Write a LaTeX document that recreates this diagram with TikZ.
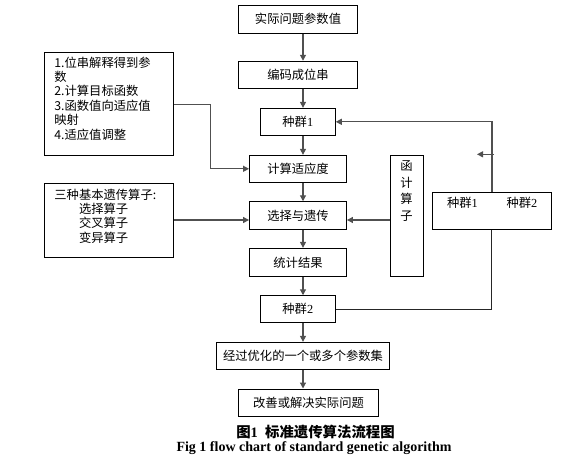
\documentclass[tikz,border=0pt]{standalone}
\usepackage{fontspec}
\setmainfont{Liberation Serif}
\newfontfamily\cjk{Noto Sans CJK SC}
\usepackage{xcolor}
\definecolor{lineGray}{HTML}{505050}
\usetikzlibrary{arrows.meta,positioning}

\begin{document}
\begin{tikzpicture}[x=1pt,y=-1pt,font=\fontsize{12.3}{14.4}\selectfont\cjk,>={Triangle[length=6pt,width=6pt]},
  box/.style={draw,line width=0.9pt,fill=white,inner sep=0pt},
  arr/.style={->,draw=lineGray,line width=1.2pt},
  link/.style={draw=black!85,line width=1pt}]
  \useasboundingbox (0,0) rectangle (578,463);
  % main column
  \node[box,minimum width=119pt,minimum height=28pt] (q) at (298,19.3) {实际问题参数值};
  \node[box,minimum width=119pt,minimum height=27pt] (enc) at (298,74.7) {编码成位串};
  \node[box,minimum width=75pt,minimum height=27pt] (popA) at (297.8,121.8) {种群{\rmfamily 1}};
  \node[box,minimum width=97pt,minimum height=27pt] (fit) at (298,168.8) {计算适应度};
  \node[box,minimum width=97pt,minimum height=27.6pt] (sel) at (298,215.5) {选择与遗传};
  \node[box,minimum width=97pt,minimum height=28pt] (stat) at (298,262.3) {统计结果};
  \node[box,minimum width=75pt,minimum height=26.6pt] (popB) at (297.8,309) {种群{\rmfamily 2}};
  \node[box,minimum width=173pt,minimum height=27pt] (opt) at (303,355.8) {经过优化的一个或多个参数集};
  \node[box,minimum width=140pt,minimum height=27.7pt] (solve) at (308.5,402.8) {改善或解决实际问题};
  \coordinate (col) at (303,0);
  \draw[arr] (q.south -| col) -- (enc.north -| col);
  \draw[arr] (enc.south -| col) -- (popA.north -| col);
  \draw[arr] (popA.south -| col) -- (fit.north -| col);
  \draw[arr] (fit.south -| col) -- (sel.north -| col);
  \draw[arr] (sel.south -| col) -- (stat.north -| col);
  \draw[arr] (stat.south -| col) -- (popB.north -| col);
  \draw[arr] (popB.south -| col) -- (opt.north -| col);
  \draw[arr] (opt.south -| col) -- (solve.north -| col);

  % left side boxes
  \node[box,minimum width=129pt,minimum height=103pt,anchor=north west] (desc) at (44.2,52.3) {};
  \node[anchor=north west,align=left,inner sep=0pt] (desctxt) at (54.2,56.5)
       {1.位串解释得到参\\数\\2.计算目标函数\\3.函数值向适应值\\映射\\4.适应值调整};
  \node[box,minimum width=129pt,minimum height=74pt,anchor=north west] (ops) at (44.2,183.3) {};
  \node[anchor=north west,align=left,inner sep=0pt] (opstxt) at (54.2,188.5)
       {三种基本遗传算子:\\\hspace*{2em}选择算子\\\hspace*{2em}交叉算子\\\hspace*{2em}变异算子};
  \coordinate (bendA) at (210.5,0);
  \draw[arr] (desc.east) -| (bendA |- fit.west) -- (fit.west);
  \coordinate (lvl) at (0,220);
  \draw[arr] (ops.east |- lvl) -- (sel.west |- lvl);

  % right side
  \node[box,minimum width=33pt,minimum height=121pt,anchor=north west] (func) at (389.6,155.3) {};
  \node[anchor=north,align=center,inner sep=0pt,font=\fontsize{12.3}{16.7}\selectfont\cjk] (functxt)
       at ([yshift=-5pt]func.north) {函\\计\\算\\子};
  \draw[arr] (func.west |- lvl) -- (sel.east |- lvl);
  \node[box,minimum width=119pt,minimum height=37pt,anchor=north west] (pair) at (432,192) {};
  \node (pairA) at (462.5,203.3) {种群{\rmfamily 1}};
  \node (pairB) at (522,203.3) {种群{\rmfamily 2}};
  \draw[link] (popB.east) -| (pair.south);
  \draw[arr] (pair.north) |- (popA.east);
  \coordinate (stub) at (494,154.3);
  \draw[arr] (stub) -- ++(-17,0);

  % caption
  \node[font=\fontsize{14.4}{16}\selectfont\cjk\bfseries] (cap) at (315.5,431.7) {图{\rmfamily 1}\enspace 标准遗传算法流程图};
  \node[font=\fontsize{14}{16}\selectfont\rmfamily\bfseries] (capen) at (314,448.3) {Fig 1 flow chart of standard genetic algorithm};
\end{tikzpicture}
\end{document}
